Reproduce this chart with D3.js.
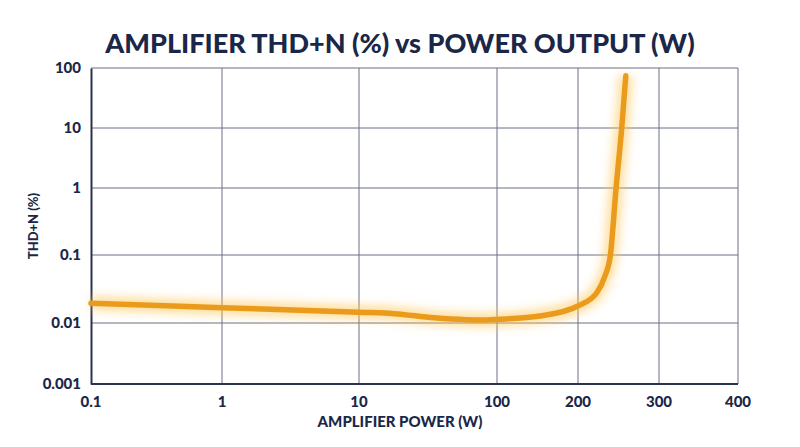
<!DOCTYPE html>
<meta charset="utf-8">
<style>
  body { margin: 0; padding: 0; background: #fff; }
  svg { display: block; background: #fff; }
  .tick text { font-family: "Lato", "Open Sans", sans-serif; font-weight: 900; font-size: 15px; fill: #1b2748; }
  .grid line { stroke: #6b7183; stroke-width: 1px; }
</style>
<script src="https://d3js.org/d3.v7.min.js"></script>
<svg id="vis"></svg>
<script>

// data
var powerW = [0.1, 1, 10, 18, 35, 60, 85, 100, 153, 200, 223, 233, 240, 247, 254, 259];
var thdPct = [0.0195, 0.0168, 0.0144, 0.0137, 0.0119, 0.0112, 0.0111, 0.0113, 0.0127, 0.0178, 0.0276, 0.048, 0.1, 1, 10, 74];
var xTicks = [0.1, 1, 10, 100, 200, 300, 400];
var yTicks = [0.001, 0.01, 0.1, 1, 10, 100];

var width = 800, height = 447;
var svg = d3.select("svg").attr("width", width).attr("height", height);

var mLeft = 91, mRight = 738, mTop = 68, mBottom = 384;

// x axis is log up to 100 W then linear up to 400 W
var xLog = d3.scaleLog().domain([0.1, 1, 10, 100]).range([mLeft, 222, 359, 497]);
var xLin = d3.scaleLinear().domain([100, 200, 300, 400]).range([497, 578, 659, mRight]);
var x = function(v) { return v <= 100 ? xLog(v) : xLin(v); };

var y = d3.scaleLog().domain([0.001, 0.01, 0.1, 1, 10, 100]).range([mBottom, 323, 255, 188, 128, mTop]);

// grid
var grid = svg.append("g").attr("class", "grid");
grid.selectAll(".v").data(xTicks.slice(1)).enter().append("line")
  .attr("x1", d => x(d)).attr("x2", d => x(d)).attr("y1", mTop).attr("y2", mBottom);
grid.selectAll(".h").data(yTicks.slice(1)).enter().append("line")
  .attr("x1", mLeft).attr("x2", mRight).attr("y1", d => y(d)).attr("y2", d => y(d));

// axes
var yAxis = svg.append("g").attr("transform", "translate(" + mLeft + ",0)")
  .call(d3.axisLeft(y).tickValues(yTicks).tickFormat(d => String(d)).tickSize(0).tickPadding(10));
yAxis.select(".domain").attr("stroke", "#2a3350").attr("stroke-width", 2);

var xAxisG = svg.append("g").attr("transform", "translate(0," + mBottom + ")");
xAxisG.append("line").attr("x1", mLeft).attr("x2", mRight).attr("y1", 0).attr("y2", 0)
  .attr("stroke", "#2a3350").attr("stroke-width", 2);
xAxisG.selectAll(".tick").data(xTicks).enter().append("g").attr("class", "tick")
  .attr("transform", d => "translate(" + x(d) + ",0)")
  .append("text").attr("y", 23).attr("text-anchor", "middle").text(d => String(d));

// glow
var defs = svg.append("defs");
var f = defs.append("filter").attr("id", "glow").attr("x", "-20%").attr("y", "-20%").attr("width", "140%").attr("height", "140%");
f.append("feGaussianBlur").attr("stdDeviation", 5);

var line = d3.line().x(d => x(d[0])).y(d => y(d[1])).curve(d3.curveMonotoneX);
var pts = d3.zip(powerW, thdPct);

svg.append("path").datum(pts).attr("d", line)
  .attr("fill", "none").attr("stroke", "#ffc24d").attr("stroke-opacity", 0.55)
  .attr("stroke-width", 14).attr("filter", "url(#glow)");
svg.append("path").datum(pts).attr("d", line)
  .attr("fill", "none").attr("stroke", "#ea9b1c").attr("stroke-width", 5.5)
  .attr("stroke-linecap", "round");

// titles
svg.append("text").attr("x", 400).attr("y", 53).attr("text-anchor", "middle")
  .style("font-family", "Lato, 'Open Sans', sans-serif").style("font-weight", 900)
  .style("font-size", "27px").attr("fill", "#1b2748")
  .text("AMPLIFIER THD+N (%) vs POWER OUTPUT (W)");

svg.append("text").attr("x", 400).attr("y", 427).attr("text-anchor", "middle")
  .style("font-family", "Lato, 'Open Sans', sans-serif").style("font-weight", 900)
  .style("font-size", "15px").attr("fill", "#1b2748")
  .text("AMPLIFIER POWER (W)");

svg.append("text").attr("transform", "translate(38,226) rotate(-90)").attr("text-anchor", "middle")
  .style("font-family", "Lato, 'Open Sans', sans-serif").style("font-weight", 900)
  .style("font-size", "13px").attr("fill", "#1b2748")
  .text("THD+N (%)");

</script>
